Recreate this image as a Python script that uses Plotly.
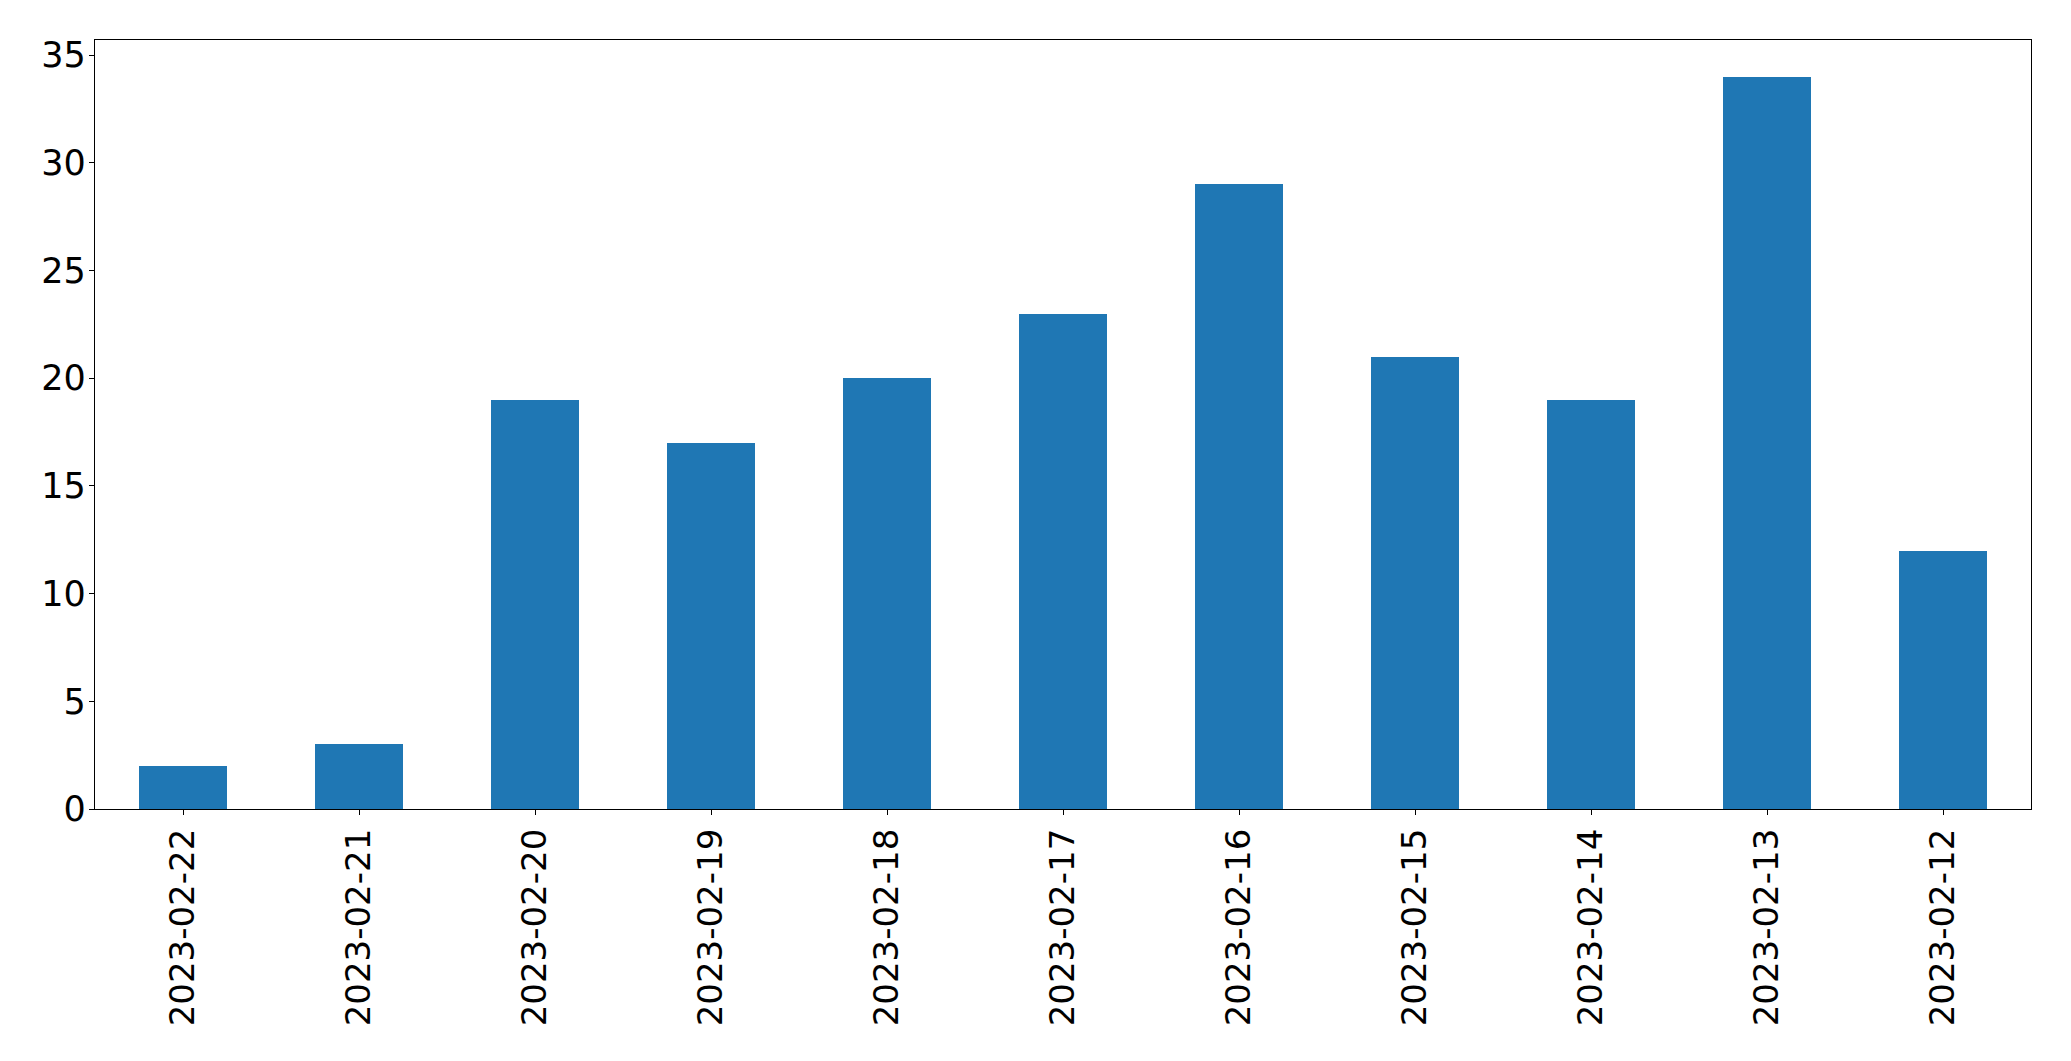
import plotly.graph_objects as go

dates = ["2023-02-22", "2023-02-21", "2023-02-20", "2023-02-19", "2023-02-18", "2023-02-17",
         "2023-02-16", "2023-02-15", "2023-02-14", "2023-02-13", "2023-02-12"]
counts = [2, 3, 19, 17, 20, 23, 29, 21, 19, 34, 12]

fig = go.Figure()
fig.add_trace(go.Bar(
    x=dates, y=counts,
    width=0.5,
    marker=dict(color="#1f77b4", line=dict(width=0)),
))

axis_style = dict(
    showline=True, linecolor="black", linewidth=1.3, mirror=True,
    ticks="outside", ticklen=5, tickwidth=1.3, tickcolor="black",
    showgrid=False, zeroline=False,
)

fig.update_xaxes(type="category", range=[-0.5, len(dates) - 0.5], tickangle=-90,
                 tickfont=dict(size=34), **axis_style)
fig.update_yaxes(range=[0, max(counts) * 1.05], tickvals=[0, 5, 10, 15, 20, 25, 30, 35],
                 tickfont=dict(size=35), ticklabelstandoff=-4, **axis_style)

# page body adds an 8px offset, margins compensate for it
fig.update_layout(
    width=2071, height=1061,
    margin=dict(l=87, r=48, t=32, b=260),
    plot_bgcolor="white", paper_bgcolor="white",
    font=dict(family="DejaVu Sans", size=34, color="black"),
    showlegend=False,
    bargap=0,
)

fig.write_html("out.html")
